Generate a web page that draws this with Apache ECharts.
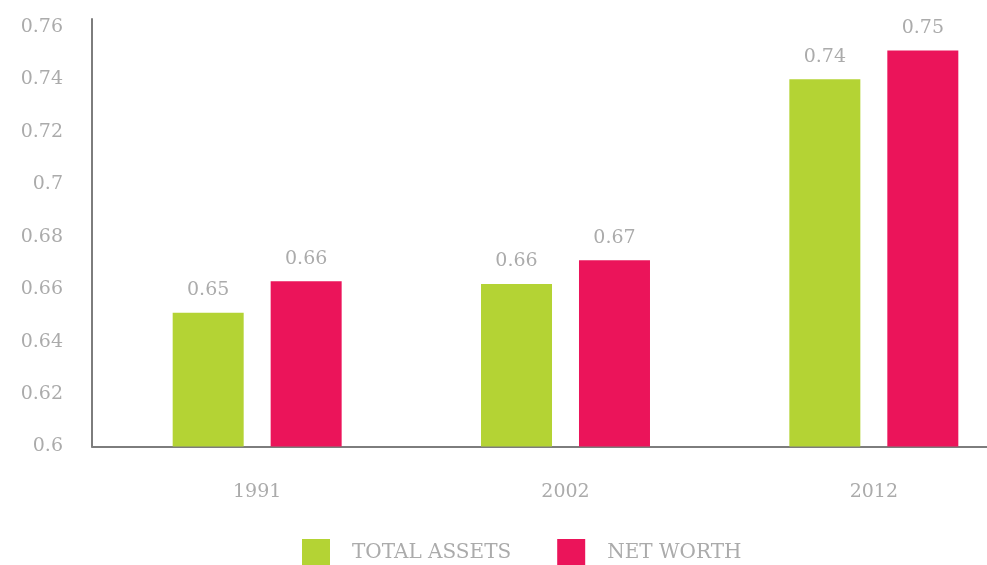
<!DOCTYPE html>
<html>
<head>
<meta charset="utf-8">
<script src="https://cdn.jsdelivr.net/npm/echarts@6/dist/echarts.min.js"></script>
<style>
html,body{margin:0;padding:0;background:#fff;}
#chart{width:987px;height:565px;}
</style>
</head>
<body>
<div id="chart"></div>
<script>
// Data
var categories = ['1991', '2002', '2012'];
var seriesNames = ['TOTAL ASSETS', 'NET WORTH'];
var totalAssets = [0.651, 0.662, 0.740];
var netWorth = [0.663, 0.671, 0.751];
var yMin = 0.6, yMax = 0.763, yInterval = 0.02;

var FONT = '"DejaVu Serif", serif';
var TXT = '#ababab';
var GREEN = '#b4d334';
var RED = '#eb145a';

var chart = echarts.init(document.getElementById('chart'), null, {renderer: 'canvas'});
var option = {
  backgroundColor: '#ffffff',
  animation: false,
  grid: [
    {left: 92, right: 0, top: 19, bottom: 118.5, outerBoundsMode: 'none', containLabel: false},
    {left: 103, width: 925, top: 19, bottom: 118.5, outerBoundsMode: 'none', containLabel: false}
  ],
  legend: {
    left: 302, top: 539, padding: 0,
    itemWidth: 28, itemHeight: 28, itemGap: 46,
    icon: 'rect',
    data: seriesNames,
    textStyle: {
      fontFamily: FONT, fontSize: 20, color: TXT,
      padding: [6, 0, 0, 17]
    }
  },
  xAxis: [
    {
      gridIndex: 0, type: 'category', data: categories,
      axisLine: {show: true, lineStyle: {color: '#7d7d7d', width: 2}},
      axisTick: {show: false}, axisLabel: {show: false}, splitLine: {show: false}
    },
    {
      gridIndex: 1, type: 'category', data: categories,
      axisLine: {show: false}, axisTick: {show: false},
      axisLabel: {show: true, margin: 36, fontFamily: FONT, fontSize: 19, color: TXT},
      splitLine: {show: false}
    }
  ],
  yAxis: [
    {
      gridIndex: 0, type: 'value', min: yMin, max: yMax, interval: yInterval,
      axisLine: {show: true, lineStyle: {color: '#7d7d7d', width: 2}},
      axisTick: {show: false}, splitLine: {show: false},
      axisLabel: {margin: 29, fontFamily: FONT, fontSize: 19, color: TXT, showMaxLabel: false}
    },
    {
      gridIndex: 1, type: 'value', min: yMin, max: yMax, interval: yInterval, show: false
    }
  ],
  series: [
    {
      name: seriesNames[0], type: 'bar', xAxisIndex: 1, yAxisIndex: 1,
      data: totalAssets, barWidth: 71, barGap: '38%',
      itemStyle: {color: GREEN},
      label: {show: true, position: 'top', distance: 13, fontFamily: FONT, fontSize: 19, color: TXT,
        formatter: function (p) { return p.value.toFixed(2); }}
    },
    {
      name: seriesNames[1], type: 'bar', xAxisIndex: 1, yAxisIndex: 1,
      data: netWorth, barWidth: 71, barGap: '38%',
      itemStyle: {color: RED},
      label: {show: true, position: 'top', distance: 13, fontFamily: FONT, fontSize: 19, color: TXT,
        formatter: function (p) { return p.value.toFixed(2); }}
    }
  ]
};
chart.setOption(option);
</script>
</body>
</html>
